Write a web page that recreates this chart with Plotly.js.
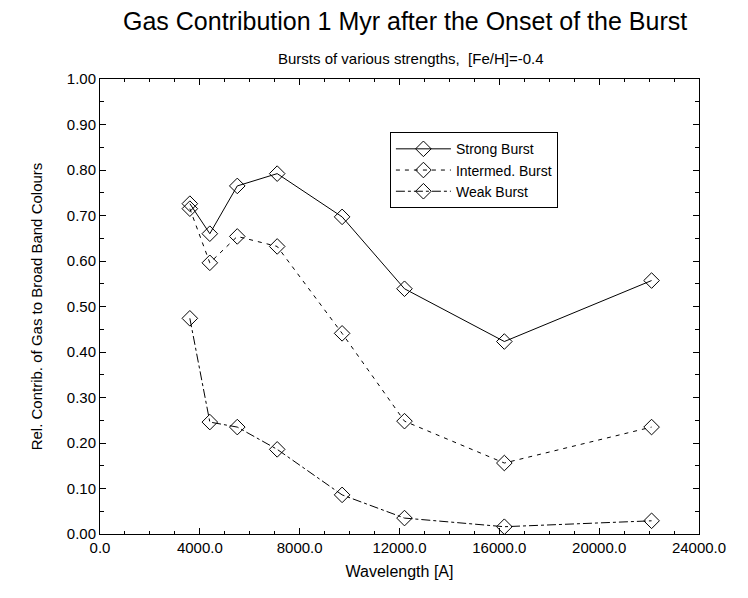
<!DOCTYPE html>
<html>
<head>
<meta charset="utf-8">
<script src="https://cdn.plot.ly/plotly-3.0.1.min.js"></script>
<style>html,body{margin:0;padding:0;background:#fff;}#chart{width:748px;height:598px;}</style>
</head>
<body>
<div id="chart"></div>
<script>
const wavelength = [3600, 4400, 5500, 7100, 9700, 12200, 16200, 22100];
const strongBurst = [0.726, 0.660, 0.765, 0.792, 0.697, 0.539, 0.423, 0.557];
const intermedBurst = [0.715, 0.596, 0.654, 0.632, 0.441, 0.248, 0.156, 0.235];
const weakBurst = [0.474, 0.246, 0.235, 0.186, 0.086, 0.035, 0.016, 0.029];
const seriesNames = ["Strong Burst", "Intermed. Burst", "Weak Burst"];

const font = "Liberation Sans, Arial, sans-serif";
const mk = {symbol: "diamond-open", size: 12, color: "#000", line: {width: 1, color: "#000"}};

const traces = [
  {x: wavelength, y: strongBurst, name: seriesNames[0], mode: "lines+markers",
   line: {color: "#000", width: 1, dash: "solid"}, marker: mk},
  {x: wavelength, y: intermedBurst, name: seriesNames[1], mode: "lines+markers",
   line: {color: "#000", width: 1, dash: "4px,5px"}, marker: mk},
  {x: wavelength, y: weakBurst, name: seriesNames[2], mode: "lines+markers",
   line: {color: "#000", width: 1, dash: "dashdot"}, marker: mk}
];

const layout = {
  width: 748, height: 598,
  margin: {l: 100, r: 49, t: 79, b: 64},
  paper_bgcolor: "#fff", plot_bgcolor: "#fff",
  font: {family: font, color: "#000", size: 13},
  showlegend: true,
  legend: {x: 0.484, y: 0.883, xanchor: "left", yanchor: "top",
    bordercolor: "#000", borderwidth: 1, bgcolor: "#fff",
    font: {family: font, size: 14}, tracegroupgap: 0, itemwidth: 55, entrywidth: 180},
  annotations: [
    {text: "Gas Contribution 1 Myr after the Onset of the Burst", xref: "paper", yref: "paper",
     x: 0.51, y: 1, yshift: 58, xanchor: "center", yanchor: "middle", showarrow: false,
     font: {family: font, size: 25}},
    {text: "Bursts of various strengths,  [Fe/H]=-0.4", xref: "paper", yref: "paper",
     x: 0.52, y: 1, yshift: 21, xanchor: "center", yanchor: "middle", showarrow: false,
     font: {family: font, size: 15}}
  ],
  xaxis: {
    range: [0, 24000], dtick: 4000, tick0: 0, tickformat: ".1f",
    ticks: "inside", ticklen: 6, tickcolor: "#000", tickwidth: 1,
    showline: true, linecolor: "#000", linewidth: 1, mirror: "allticks",
    showgrid: false, zeroline: false,
    minor: {dtick: 1000, ticks: "inside", ticklen: 3, tickcolor: "#000", showgrid: false},
    tickfont: {family: font, size: 15},
    title: {text: "Wavelength [A]", font: {family: font, size: 16}, standoff: 10}
  },
  yaxis: {
    range: [0, 1], dtick: 0.1, tick0: 0, tickformat: ".2f",
    ticks: "inside", ticklen: 6, tickcolor: "#000", tickwidth: 1,
    showline: true, linecolor: "#000", linewidth: 1, mirror: "allticks",
    showgrid: false, zeroline: false,
    minor: {dtick: 0.05, ticks: "inside", ticklen: 4, tickcolor: "#000", showgrid: false},
    tickfont: {family: font, size: 15},
    title: {text: "Rel. Contrib. of Gas to Broad Band Colours", font: {family: font, size: 15}, standoff: 20}
  }
};

Plotly.newPlot("chart", traces, layout, {displayModeBar: false, staticPlot: true});
</script>
</body>
</html>
